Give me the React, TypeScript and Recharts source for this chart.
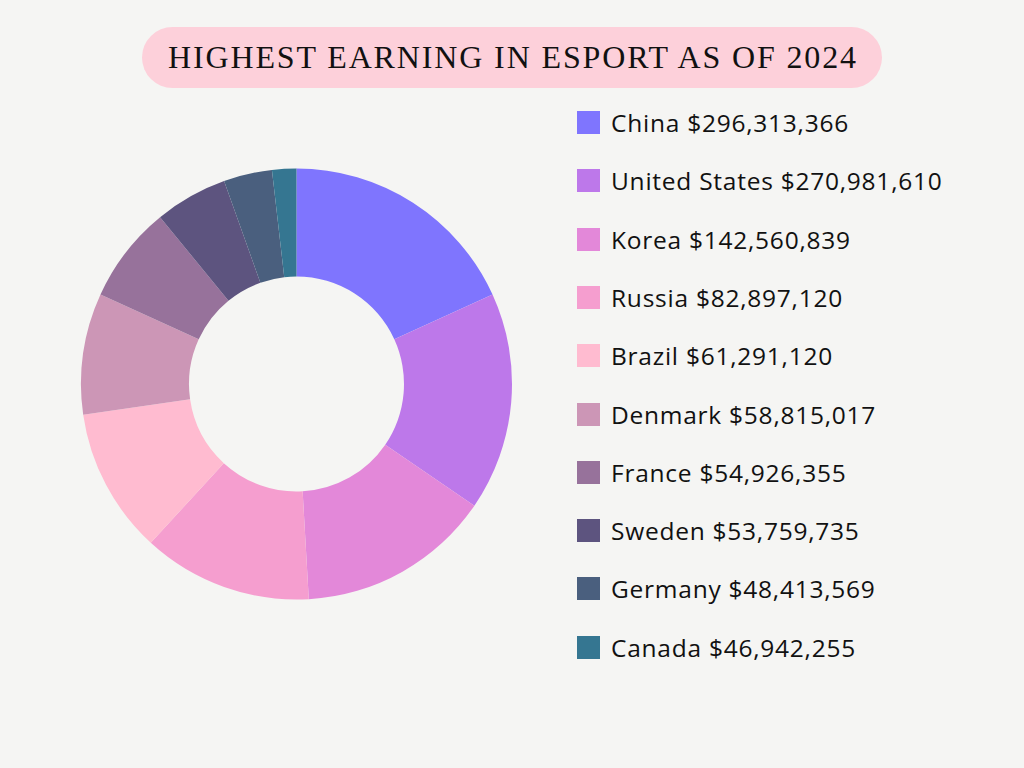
import React from "react";
import { PieChart, Pie, Cell } from "recharts";

const countries = ["China", "United States", "Korea", "Russia", "Brazil", "Denmark", "France", "Sweden", "Germany", "Canada"];
const earnings = ["$296,313,366", "$270,981,610", "$142,560,839", "$82,897,120", "$61,291,120", "$58,815,017", "$54,926,355", "$53,759,735", "$48,413,569", "$46,942,255"];
// slice shares as drawn in the picture (rank weights)
const sliceShares = [10, 9, 8, 7, 6, 5, 4, 3, 2, 1];
const colors = ["#7f75fe", "#bd78ea", "#e388d9", "#f59ecf", "#ffbbd0", "#cc96b6", "#97729b", "#5d547f", "#4a5f7e", "#357691"];
const title = "HIGHEST EARNING IN ESPORT AS OF 2024";

const data = countries.map((c, i) => ({ name: c, label: `${c} ${earnings[i]}`, value: sliceShares[i] }));

const LegendBlock = () => (
  <div style={{ position: "absolute", left: 577, top: 111 }}>
    {data.map((d, i) => (
      <div
        key={d.name}
        style={{
          position: "absolute",
          left: 0,
          top: i * 58.3,
          height: 23,
          display: "flex",
          alignItems: "center",
          whiteSpace: "nowrap",
        }}
      >
        <div style={{ width: 23, height: 23, background: colors[i], marginRight: 11 }} />
        <span style={{ fontFamily: "'Open Sans', sans-serif", fontSize: 24.5, color: "#111", letterSpacing: 0.75 }}>{d.label}</span>
      </div>
    ))}
  </div>
);

export default function App() {
  return (
    <div style={{ position: "fixed", left: 0, top: 0, width: 1024, height: 768, background: "#f5f5f3", overflow: "hidden" }}>
      <svg width={1024} height={100} style={{ position: "absolute", left: 0, top: 0 }}>
        <rect x={142} y={27} width={740} height={61} rx={30.5} fill="#fdd0da" />
        <text
          x={168}
          y={68}
          textLength={688}
          lengthAdjust="spacing"
          fontFamily="'Liberation Serif', serif"
          fontSize={32}
          fill="#111"
        >
          {title}
        </text>
      </svg>
      <div style={{ position: "absolute", left: 0, top: 0 }}>
        <PieChart width={600} height={768} margin={{ top: 0, right: 0, bottom: 0, left: 0 }}>
          <Pie
            data={data}
            dataKey="value"
            nameKey="name"
            cx={296.5}
            cy={384}
            outerRadius={215.5}
            innerRadius={107.5}
            startAngle={90}
            endAngle={-270}
            stroke="none"
            isAnimationActive={false}
          >
            {data.map((d, i) => (
              <Cell key={d.name} fill={colors[i]} />
            ))}
          </Pie>
        </PieChart>
      </div>
      <LegendBlock />
    </div>
  );
}
